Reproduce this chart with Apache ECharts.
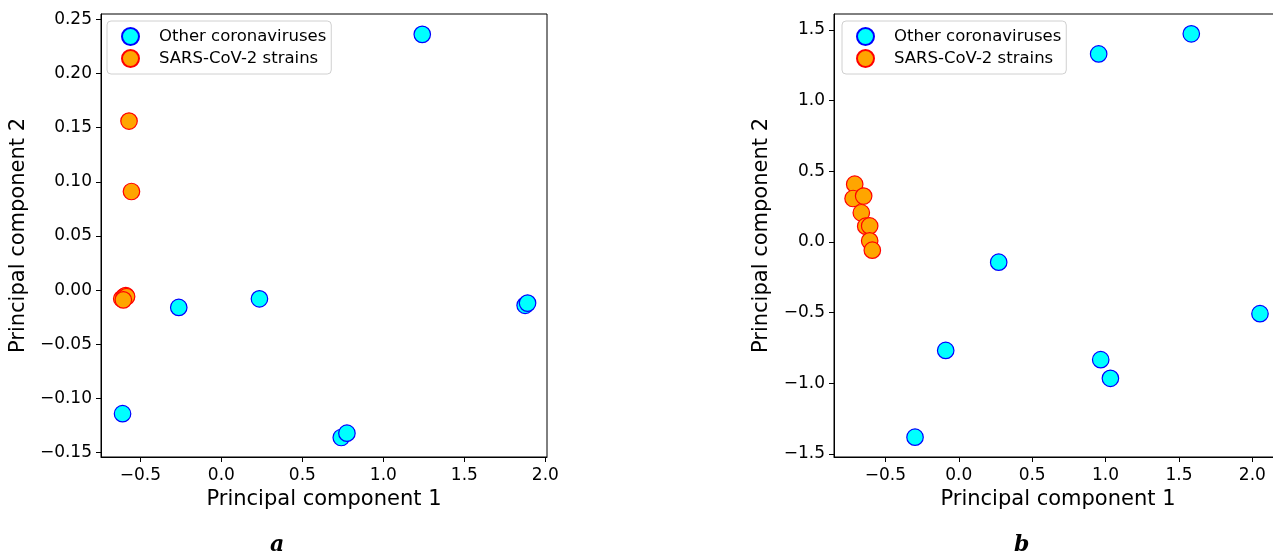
<!DOCTYPE html>
<html>
<head>
<meta charset="utf-8">
<script src="https://cdn.jsdelivr.net/npm/echarts@6/dist/echarts.min.js"></script>
<style>
html,body{margin:0;padding:0;background:#fff;}
#chart{width:1273px;height:553px;}
</style>
</head>
<body>
<div id="chart"></div>
<script>
// Panel a
const aOtherX = [1.24, -0.263, 0.235, 1.875, 1.89, -0.61, 0.74, 0.775];
const aOtherY = [0.236, -0.016, -0.008, -0.014, -0.012, -0.114, -0.136, -0.132];
const aSarsX = [-0.57, -0.555, -0.615, -0.6, -0.59, -0.585, -0.605];
const aSarsY = [0.156, 0.091, -0.008, -0.006, -0.005, -0.006, -0.009];
const aXTicks = [-0.5, 0.0, 0.5, 1.0, 1.5, 2.0];
const aYTicks = [-0.15, -0.10, -0.05, 0.00, 0.05, 0.10, 0.15, 0.20, 0.25];
// Panel b
const bOtherX = [1.584, 0.953, 0.272, 2.052, 0.967, 1.033, -0.089, -0.298];
const bOtherY = [1.472, 1.330, -0.144, -0.508, -0.834, -0.966, -0.768, -1.382];
const bSarsX = [-0.709, -0.72, -0.648, -0.664, -0.634, -0.607, -0.607, -0.589];
const bSarsY = [0.408, 0.307, 0.324, 0.206, 0.111, 0.113, 0.007, -0.059];
const bXTicks = [-0.5, 0.0, 0.5, 1.0, 1.5, 2.0];
const bYTicks = [-1.5, -1.0, -0.5, 0.0, 0.5, 1.0, 1.5];

const seriesNames = ['Other coronaviruses', 'SARS-CoV-2 strains'];
const captions = ['a', 'b'];

const FONT = 'DejaVu Sans';
const zip = (xs, ys) => xs.map((x, i) => [x, ys[i]]);
const fmt = d => v => (v < 0 ? '\u2212' : '') + Math.abs(v).toFixed(d);

function xAxis(gi, min, max, ticks) {
  return {
    type: 'value', gridIndex: gi, min: min, max: max,
    name: 'Principal component 1', nameLocation: 'middle', nameGap: 30,
    nameTextStyle: {fontFamily: FONT, fontSize: 21, color: '#000'},
    axisLine: {show: true, onZero: false, lineStyle: {color: '#000', width: 1}},
    axisTick: {show: true, length: 5, customValues: ticks, lineStyle: {color: '#000'}},
    axisLabel: {customValues: ticks, formatter: fmt(1), fontFamily: FONT, fontSize: 17, color: '#000', margin: 10},
    splitLine: {show: false}
  };
}
function yAxis(gi, min, max, ticks, dec, gap) {
  return {
    type: 'value', gridIndex: gi, min: min, max: max,
    name: 'Principal component 2', nameLocation: 'middle', nameGap: gap,
    nameTextStyle: {fontFamily: FONT, fontSize: 21, color: '#000'},
    axisLine: {show: true, onZero: false, lineStyle: {color: '#000', width: 1}},
    axisTick: {show: true, length: 5, customValues: ticks, lineStyle: {color: '#000'}},
    axisLabel: {customValues: ticks, formatter: fmt(dec), fontFamily: FONT, fontSize: 17, color: '#000', margin: 9},
    splitLine: {show: false}
  };
}
const otherStyle = {color: '#00ffff', borderColor: '#0000ff', borderWidth: 1.2, opacity: 1};
const sarsStyle = {color: '#ffa500', borderColor: '#ff0000', borderWidth: 1.2, opacity: 1};

function scatter(name, gi, data, style, z) {
  return {
    type: 'scatter', name: name, xAxisIndex: gi, yAxisIndex: gi,
    data: data, symbol: 'circle', symbolSize: 16.5, itemStyle: style, z: z,
    emphasis: {disabled: true}, animation: false
  };
}
function legend(left) {
  return {
    left: left, top: 21, orient: 'vertical', data: seriesNames,
    itemWidth: 17, itemHeight: 17, itemGap: 3, icon: 'circle',
    padding: [6, 5, 6, 14], borderColor: '#d0d0d0', borderWidth: 1, borderRadius: 4,
    backgroundColor: 'rgba(255,255,255,0.8)',
    textStyle: {fontFamily: FONT, fontSize: 16.5, lineHeight: 18, color: '#000', padding: [0, 0, 0, 15]},
    selectedMode: false
  };
}

const chart = echarts.init(document.getElementById('chart'), null, {renderer: 'canvas'});
chart.setOption({
  animation: false,
  backgroundColor: '#fff',
  grid: [
    {left: 101, top: 14, width: 446, height: 443, show: true, borderColor: '#000', borderWidth: 1, backgroundColor: 'transparent', containLabel: false, outerBoundsMode: 'none'},
    {left: 834, top: 14, width: 448, height: 443, show: true, borderColor: '#000', borderWidth: 1, backgroundColor: 'transparent', containLabel: false, outerBoundsMode: 'none'}
  ],
  xAxis: [xAxis(0, -0.743, 2.01, aXTicks), xAxis(1, -0.85, 2.202, bXTicks)],
  yAxis: [yAxis(0, -0.154, 0.2548, aYTicks, 2, 72), yAxis(1, -1.5225, 1.6125, bYTicks, 1, 62)],
  legend: [legend(107), legend(842)],
  series: [
    scatter(seriesNames[0], 0, zip(aOtherX, aOtherY), otherStyle, 2),
    scatter(seriesNames[1], 0, zip(aSarsX, aSarsY), sarsStyle, 3),
    scatter(seriesNames[0], 1, zip(bOtherX, bOtherY), otherStyle, 2),
    scatter(seriesNames[1], 1, zip(bSarsX, bSarsY), sarsStyle, 3)
  ],
  graphic: [
    {type: 'text', left: 270, top: 534, style: {text: captions[0], font: 'italic bold 22px "DejaVu Serif"', fill: '#000'}},
    {type: 'text', left: 1014, top: 534, style: {text: captions[1], font: 'italic bold 22px "DejaVu Serif"', fill: '#000'}}
  ]
});
</script>
</body>
</html>
